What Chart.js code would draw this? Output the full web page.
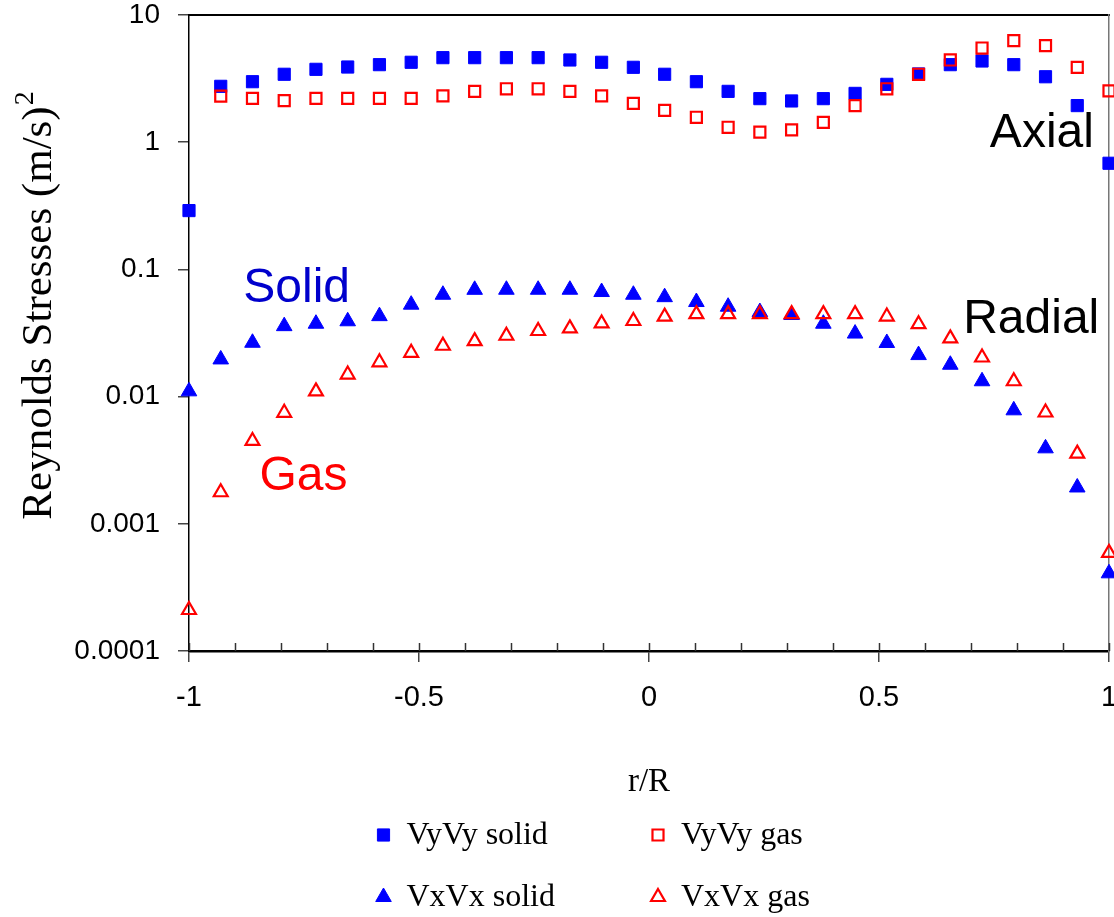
<!DOCTYPE html>
<html>
<head>
<meta charset="utf-8">
<script src="https://cdn.jsdelivr.net/npm/chart.js@4.4.1/dist/chart.umd.min.js"></script>
<style>
  html, body { margin: 0; padding: 0; background: #fff; }
  canvas { display: block; }
</style>
</head>
<body>
<canvas id="chart" width="1114" height="917"></canvas>
<script>
// Radial position across the riser (r/R)
const rR = [-1, -0.931, -0.862, -0.793, -0.724, -0.655, -0.586, -0.517, -0.448, -0.379,
            -0.310, -0.241, -0.172, -0.103, -0.034, 0.034, 0.103, 0.172, 0.241, 0.310,
            0.379, 0.448, 0.517, 0.586, 0.655, 0.724, 0.793, 0.862, 0.931, 1];

// Axial normal stress, solid phase (m/s)^2
const vyvySolid = [0.29, 2.75, 2.99, 3.42, 3.74, 3.90, 4.07, 4.25, 4.62, 4.62,
                   4.62, 4.62, 4.43, 4.25, 3.88, 3.42, 2.99, 2.51, 2.20, 2.11,
                   2.20, 2.42, 2.85, 3.44, 4.07, 4.35, 4.07, 3.27, 1.94, 0.683];

// Axial normal stress, gas phase (no value at the wall r/R = -1)
const vyvyGas = [null, 2.30, 2.21, 2.12, 2.21, 2.21, 2.21, 2.21, 2.31, 2.51,
                 2.63, 2.63, 2.51, 2.31, 2.02, 1.78, 1.57, 1.31, 1.20, 1.25,
                 1.43, 1.94, 2.63, 3.42, 4.43, 5.50, 6.28, 5.74, 3.88, 2.53];

// Radial normal stress, solid phase
const vxvxSolid = [0.0110, 0.0196, 0.0265, 0.0358, 0.0374, 0.0391, 0.0429, 0.0528, 0.0632, 0.0691,
                   0.0692, 0.0692, 0.0692, 0.0664, 0.0632, 0.0605, 0.0554, 0.0509, 0.0462, 0.0438,
                   0.0374, 0.0313, 0.0264, 0.0212, 0.0178, 0.0132, 0.0078, 0.00392, 0.00193, 0.000408];

// Radial normal stress, gas phase
const vxvxGas = [0.00021, 0.00177, 0.00448, 0.00746, 0.0110, 0.0149, 0.0186, 0.0221, 0.0251, 0.0273,
                 0.0301, 0.0328, 0.0344, 0.0376, 0.0393, 0.0425, 0.0445, 0.0445, 0.0445, 0.0445,
                 0.0445, 0.0445, 0.0426, 0.0371, 0.0287, 0.0203, 0.0132, 0.0075, 0.00356, 0.000591];

const seriesNames = ['VyVy solid', 'VyVy gas', 'VxVx solid', 'VxVx gas'];
const yTickValues = [0.0001, 0.001, 0.01, 0.1, 1, 10];
const xTitle = 'r/R';
const yTitle = 'Reynolds Stresses (m/s)';
const yTitleSup = '2';

// Text labels placed in data coordinates (left edge, baseline)
const noteText  = ['Axial', 'Radial', 'Solid', 'Gas'];
const noteX     = [0.741, 0.683, -0.882, -0.847];
const noteY     = [0.922, 0.0318, 0.0557, 0.001845];
const noteColor = ['#000000', '#000000', '#0000CC', '#FF0000'];

const BLUE = '#0000FF';
const RED = '#FF0000';
const SANS = '"Liberation Sans", Arial, sans-serif';
const SERIF = '"Liberation Serif", "Times New Roman", serif';

const toPoints = arr => arr
  .map((v, i) => (v == null ? null : { x: rR[i], y: v }))
  .filter(p => p !== null);

const isHalf = v => Math.abs(v * 2 - Math.round(v * 2)) < 1e-6;

// Fixed scale sizes so the plot frame does not shrink for label overhang
const fixSize = (prop, size) => s => {
  s[prop] = size;
  s.paddingLeft = 0; s.paddingRight = 0; s.paddingTop = 0; s.paddingBottom = 0;
};

// Inward tick marks on the r/R axis
const innerTicks = {
  id: 'innerTicks',
  afterDraw(chart) {
    const { ctx, chartArea } = chart;
    const xs = chart.scales.x;
    ctx.save();
    ctx.strokeStyle = '#333';
    ctx.lineWidth = 1.5;
    xs.ticks.forEach(t => {
      const px = Math.round(xs.getPixelForValue(t.value)) + 0.5;
      ctx.beginPath();
      ctx.moveTo(px, chartArea.bottom);
      ctx.lineTo(px, chartArea.bottom - 8);
      ctx.stroke();
    });
    ctx.restore();
  }
};

// Rotated y-axis caption with a raised exponent
const yCaption = {
  id: 'yCaption',
  afterDraw(chart) {
    const { ctx } = chart;
    ctx.save();
    ctx.translate(38, 306);
    ctx.rotate(-Math.PI / 2);
    ctx.fillStyle = '#000';
    ctx.font = '43px ' + SERIF;
    const w = ctx.measureText(yTitle).width;
    ctx.font = '28px ' + SERIF;
    const ws = ctx.measureText(yTitleSup).width;
    const start = -(w + ws) / 2;
    ctx.textBaseline = 'middle';
    ctx.textAlign = 'left';
    ctx.font = '43px ' + SERIF;
    ctx.fillText(yTitle, start, 2);
    ctx.font = '28px ' + SERIF;
    ctx.fillText(yTitleSup, start + w + 1, -12);
    ctx.restore();
  }
};

// Free text labels for phase and direction
const notes = {
  id: 'notes',
  afterDraw(chart) {
    const { ctx } = chart;
    const xs = chart.scales.x, ys = chart.scales.y;
    ctx.save();
    ctx.textBaseline = 'alphabetic';
    ctx.textAlign = 'left';
    ctx.font = '48px ' + SANS;
    noteText.forEach((t, i) => {
      ctx.fillStyle = noteColor[i];
      ctx.fillText(t, xs.getPixelForValue(noteX[i]), ys.getPixelForValue(noteY[i]));
    });
    ctx.restore();
  }
};

// Two-column legend beneath the axis caption
const twoColLegend = {
  id: 'twoColLegend',
  afterDraw(chart) {
    const { ctx } = chart;
    const cols = [383.5, 658];
    const rows = [835, 897];
    ctx.save();
    ctx.font = '32px ' + SERIF;
    ctx.textBaseline = 'middle';
    ctx.textAlign = 'left';
    seriesNames.forEach((name, i) => {
      const ds = chart.data.datasets[i];
      const x = cols[i % 2], y = rows[Math.floor(i / 2)];
      ctx.fillStyle = ds.backgroundColor;
      ctx.strokeStyle = ds.borderColor;
      ctx.lineWidth = ds.borderWidth;
      Chart.helpers.drawPoint(ctx, {
        pointStyle: ds.pointStyle, rotation: 0,
        radius: ds.pointRadius, borderWidth: ds.borderWidth
      }, x, y);
      ctx.fillStyle = '#000';
      ctx.fillText(name, x + 23, y + 1);
    });
    ctx.restore();
  }
};

new Chart(document.getElementById('chart'), {
  type: 'scatter',
  data: {
    datasets: [
      { label: seriesNames[0], data: toPoints(vyvySolid), pointStyle: 'rect', pointRadius: 8.6,
        backgroundColor: BLUE, borderColor: BLUE, borderWidth: 1, order: 1, clip: false },
      { label: seriesNames[1], data: toPoints(vyvyGas), pointStyle: 'rect', pointRadius: 7.8,
        backgroundColor: 'rgba(0,0,0,0)', borderColor: RED, borderWidth: 2.2, order: 0, clip: false },
      { label: seriesNames[2], data: toPoints(vxvxSolid), pointStyle: 'triangle', pointRadius: 9,
        backgroundColor: BLUE, borderColor: BLUE, borderWidth: 1, order: 1, clip: false },
      { label: seriesNames[3], data: toPoints(vxvxGas), pointStyle: 'triangle', pointRadius: 8,
        backgroundColor: 'rgba(0,0,0,0)', borderColor: RED, borderWidth: 2.2, order: 0, clip: false }
    ]
  },
  options: {
    responsive: false,
    animation: false,
    layout: { autoPadding: false, padding: { left: 0, right: 0, top: 0, bottom: 117 } },
    plugins: { legend: { display: false }, tooltip: { enabled: false } },
    scales: {
      x: {
        type: 'linear', position: 'bottom', min: -1, max: 1,
        afterFit: fixSize('height', 149),
        ticks: {
          stepSize: 0.1, autoSkip: false, maxRotation: 0, padding: 19,
          color: '#000', font: { family: SANS, size: 29 },
          callback: v => (isHalf(v) ? String(Math.round(v * 2) / 2) : '')
        },
        grid: {
          drawOnChartArea: false, drawTicks: true, tickLength: 11, lineWidth: 1.5,
          color: c => (c.tick && isHalf(c.tick.value) ? '#444' : 'rgba(0,0,0,0)')
        },
        border: { color: '#000', width: 2.5 },
        title: {
          display: true, text: xTitle, color: '#000',
          font: { family: SERIF, size: 33, lineHeight: 1 },
          padding: { top: 0, bottom: 1.5 }
        }
      },
      xTop: {
        type: 'linear', position: 'top', min: -1, max: 1,
        afterFit: fixSize('height', 15),
        ticks: { display: false },
        grid: { drawOnChartArea: false, drawTicks: false, color: 'rgba(0,0,0,0)' },
        border: { color: '#000', width: 2 }
      },
      y: {
        type: 'logarithmic', position: 'left', min: 0.0001, max: 10,
        afterFit: fixSize('width', 189),
        afterBuildTicks: s => { s.ticks = yTickValues.map(v => ({ value: v })); },
        ticks: {
          padding: 18, color: '#000', font: { family: SANS, size: 28 },
          callback: v => String(v)
        },
        grid: { drawOnChartArea: false, drawTicks: true, tickLength: 11, lineWidth: 1.5, color: '#444' },
        border: { color: '#000', width: 1.5 }
      },
      yRight: {
        type: 'linear', position: 'right', min: 0, max: 1,
        afterFit: fixSize('width', 5),
        ticks: { display: false },
        grid: { drawOnChartArea: false, drawTicks: false, color: 'rgba(0,0,0,0)' },
        border: { color: '#777', width: 1.5 }
      }
    }
  },
  plugins: [innerTicks, yCaption, notes, twoColLegend]
});
</script>
</body>
</html>
